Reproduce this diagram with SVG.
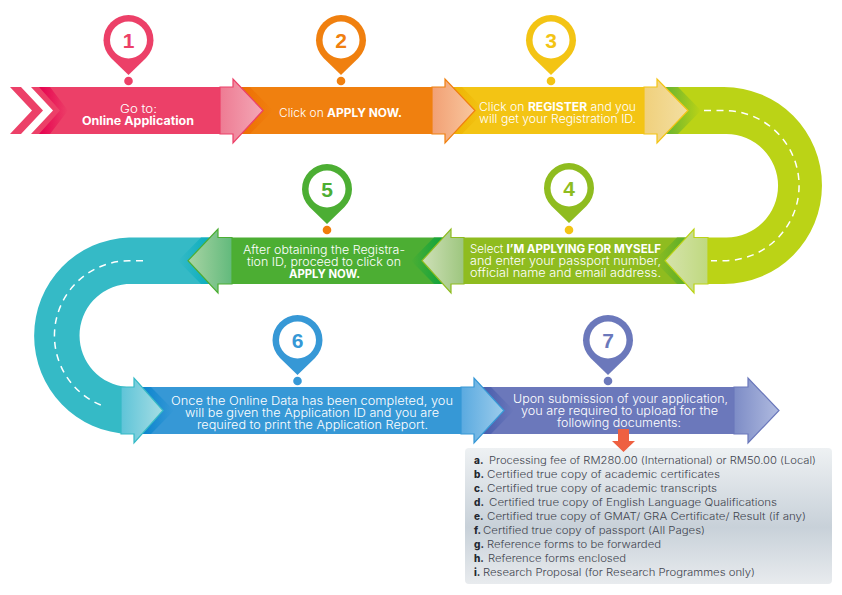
<svg xmlns="http://www.w3.org/2000/svg" width="842" height="595" viewBox="0 0 842 595">
<style>
text{font-family:"Inter","Lato","Liberation Sans",sans-serif}
.t{fill:#fff;font-size:11.5px;font-weight:300}
.b{font-weight:700}
.n{font-size:21px;font-weight:700;text-anchor:middle;font-family:"Liberation Sans",sans-serif}
.l{fill:#3f444e;font-size:10px;font-weight:300}
.lb{font-weight:800;fill:#23272f}
.hd{stroke-width:1.2}
.dash{fill:none;stroke:#fff;stroke-width:1.5;stroke-dasharray:7 5.5}
</style>
<defs>
<path id="pin" d="M-17.5 17.9A25 25 0 1 1 17.5 17.9L0 35Z"/>
<linearGradient id="box" x1="0" y1="0" x2="0" y2="1"><stop offset="0" stop-color="#eef1f3"/><stop offset=".58" stop-color="#c8d1d9"/><stop offset="1" stop-color="#e8ebee"/></linearGradient>
<linearGradient id="h1"><stop offset="0" stop-color="#ee7b93"/><stop offset="1" stop-color="#f3a8b6"/></linearGradient>
<linearGradient id="h2"><stop offset="0" stop-color="#f2a074"/><stop offset="1" stop-color="#f8c79f"/></linearGradient>
<linearGradient id="h3"><stop offset="0" stop-color="#f0d07c"/><stop offset="1" stop-color="#f3dfa2"/></linearGradient>
<linearGradient id="h4"><stop offset="0" stop-color="#d6e3ac"/><stop offset="1" stop-color="#bfd97f"/></linearGradient>
<linearGradient id="h5"><stop offset="0" stop-color="#cfe0b8"/><stop offset="1" stop-color="#9dc67e"/></linearGradient>
<linearGradient id="h6"><stop offset="0" stop-color="#a9d4a4"/><stop offset="1" stop-color="#62ba7c"/></linearGradient>
<linearGradient id="h7"><stop offset="0" stop-color="#5ec4d8"/><stop offset="1" stop-color="#a6dde4"/></linearGradient>
<linearGradient id="h8"><stop offset="0" stop-color="#5aaae0"/><stop offset="1" stop-color="#9ccceb"/></linearGradient>
<linearGradient id="h9"><stop offset="0" stop-color="#7d8cc6"/><stop offset="1" stop-color="#b0bbe0"/></linearGradient>
<linearGradient id="c1"><stop offset="0" stop-color="#e6004f"/><stop offset="1" stop-color="#ec4068"/></linearGradient>
<linearGradient id="c2"><stop offset="0" stop-color="#ec6a00"/><stop offset="1" stop-color="#f0800f"/></linearGradient>
<linearGradient id="c3"><stop offset="0" stop-color="#ecb000"/><stop offset="1" stop-color="#f3c414"/></linearGradient>
<linearGradient id="cl"><stop offset="0" stop-color="#55ac35"/><stop offset="1" stop-color="#bbd316"/></linearGradient>
<linearGradient id="c4"><stop offset="0" stop-color="#8fbc1f"/><stop offset="1" stop-color="#4fab2c"/></linearGradient>
<linearGradient id="c5"><stop offset="0" stop-color="#4cae33"/><stop offset="1" stop-color="#00a040"/></linearGradient>
<linearGradient id="ct"><stop offset="0" stop-color="#35bac6"/><stop offset="1" stop-color="#00aabc"/></linearGradient>
<linearGradient id="c6"><stop offset="0" stop-color="#0080cc"/><stop offset="1" stop-color="#3698d6"/></linearGradient>
<linearGradient id="c7"><stop offset="0" stop-color="#3f55a8"/><stop offset="1" stop-color="#6b78bb"/></linearGradient>
</defs>

<g id="step1">
<polygon points="10,87 21,87 43,110.5 21,134 10,134 32,110.5" fill="#ec4068"/>
<polygon points="31,87 233,87 233,134 31,134 53,110.5" fill="#ec4068"/>
<polygon points="39,87 50,87 68,110.5 50,134 39,134 60,110.5" fill="url(#c1)"/>
<text class="t"><tspan x="120" y="113" textLength="37" lengthAdjust="spacingAndGlyphs">Go to:</tspan><tspan class="b" x="82" y="124.5" textLength="112" lengthAdjust="spacingAndGlyphs">Online Application</tspan></text>
<use href="#pin" x="128.5" y="40" fill="#ec4068"/><circle cx="128.5" cy="40" r="18.5" fill="#fff"/><circle cx="128.5" cy="81" r="4.3" fill="#ec4068"/>
<text class="n" x="128.5" y="48" fill="#ec4068">1</text>
</g>
<g id="step2">
<polygon points="233,87 445,87 445,134 233,134" fill="#f0800f"/>
<polygon points="233,87 250,87 273,110.5 250,134 233,134" fill="url(#c2)"/>
<text class="t" x="279" y="117" textLength="123" lengthAdjust="spacingAndGlyphs">Click on <tspan class="b">APPLY NOW.</tspan></text>
<use href="#pin" x="341" y="40" fill="#f0800f"/><circle cx="341" cy="40" r="18.5" fill="#fff"/><circle cx="341" cy="81" r="4.3" fill="#f0800f"/>
<text class="n" x="341" y="48" fill="#f0800f">2</text>
</g>
<g id="step3">
<polygon points="445,87 657,87 657,134 445,134" fill="#f3c414"/>
<polygon points="445,87 462,87 485,110.5 462,134 445,134" fill="url(#c3)"/>
<text class="t" x="479" y="111" textLength="157" lengthAdjust="spacingAndGlyphs">Click on <tspan class="b">REGISTER</tspan> and you</text>
<text class="t" x="479" y="123" textLength="157" lengthAdjust="spacingAndGlyphs">will get your Registration ID.</text>
<use href="#pin" x="551" y="40" fill="#f3c414"/><circle cx="551" cy="40" r="18.5" fill="#fff"/><circle cx="551" cy="81" r="4.3" fill="#f3c414"/>
<text class="n" x="551" y="48" fill="#f3c414">3</text>
</g>
<g id="step4">
<polygon points="451,237.5 694,237.5 694,284 451,284" fill="#8fbc1f"/>
<polygon points="694,237.5 677,237.5 654,260.7 677,284 694,284" fill="url(#c4)"/>
<text class="t" x="470" y="253" textLength="191" lengthAdjust="spacingAndGlyphs">Select <tspan class="b">I’M APPLYING FOR MYSELF</tspan></text>
<text class="t" x="470" y="265" textLength="191" lengthAdjust="spacingAndGlyphs">and enter your passport number,</text>
<text class="t" x="470" y="277" textLength="191" lengthAdjust="spacingAndGlyphs">official name and email address.</text>
<use href="#pin" x="569" y="188" fill="#8fbc1f"/><circle cx="569" cy="188" r="18.5" fill="#fff"/><circle cx="569" cy="230" r="4.3" fill="#f3c414"/>
<text class="n" x="569" y="196" fill="#8fbc1f">4</text>
</g>
<g id="step5">
<polygon points="218,237.5 451,237.5 451,284 218,284" fill="#4cae33"/>
<polygon points="451,237.5 434,237.5 411,260.7 434,284 451,284" fill="url(#c5)"/>
<text class="t" x="243" y="254" textLength="162" lengthAdjust="spacingAndGlyphs">After obtaining the Registra-</text>
<text class="t" x="247" y="266" textLength="154" lengthAdjust="spacingAndGlyphs">tion ID, proceed to click on</text>
<text class="t b" x="289" y="278" textLength="71" lengthAdjust="spacingAndGlyphs">APPLY NOW.</text>
<use href="#pin" x="327" y="189" fill="#4cae33"/><circle cx="327" cy="189" r="18.5" fill="#fff"/><circle cx="327" cy="230" r="4.3" fill="#f07d0b"/>
<text class="n" x="327" y="197" fill="#4cae33">5</text>
</g>
<g id="step6">
<polygon points="134,387 474,387 474,434 134,434" fill="#3698d6"/>
<polygon points="134,387 151,387 174,410.5 151,434 134,434" fill="url(#c6)"/>
<text class="t" x="171" y="405" textLength="282" lengthAdjust="spacingAndGlyphs">Once the Online Data has been completed, you</text>
<text class="t" x="185" y="417" textLength="254" lengthAdjust="spacingAndGlyphs">will be given the Application ID and you are</text>
<text class="t" x="197" y="429" textLength="231" lengthAdjust="spacingAndGlyphs">required to print the Application Report.</text>
<use href="#pin" x="297.5" y="340" fill="#3698d6"/><circle cx="297.5" cy="340" r="18.5" fill="#fff"/><circle cx="297.5" cy="381" r="4.3" fill="#3698d6"/>
<text class="n" x="297.5" y="348" fill="#3698d6">6</text>
</g>
<g id="step7">
<polygon points="474,387 748,387 748,434 474,434" fill="#6b78bb"/>
<polygon points="474,387 491,387 514,410.5 491,434 474,434" fill="url(#c7)"/>
<text class="t" x="513" y="403" textLength="215" lengthAdjust="spacingAndGlyphs">Upon submission of your application,</text>
<text class="t" x="521" y="415" textLength="197" lengthAdjust="spacingAndGlyphs">you are required to upload for the</text>
<text class="t" x="557" y="427" textLength="124" lengthAdjust="spacingAndGlyphs">following documents:</text>
<use href="#pin" x="608" y="340" fill="#6b78bb"/><circle cx="608" cy="340" r="18.5" fill="#fff"/><circle cx="608" cy="381" r="4.3" fill="#6b78bb"/>
<text class="n" x="608" y="348" fill="#6b78bb">7</text>
</g>
<g id="documents">
<rect x="465" y="448" width="367" height="136" rx="4" fill="url(#box)"/>
<text class="l" y="464"><tspan class="lb" x="474">a.</tspan><tspan x="489" textLength="327" lengthAdjust="spacingAndGlyphs">Processing fee of RM280.00 (International) or RM50.00 (Local)</tspan></text>
<text class="l" y="478"><tspan class="lb" x="474">b.</tspan><tspan x="487" textLength="233" lengthAdjust="spacingAndGlyphs">Certified true copy of academic certificates</tspan></text>
<text class="l" y="492"><tspan class="lb" x="474">c.</tspan><tspan x="487" textLength="230" lengthAdjust="spacingAndGlyphs">Certified true copy of academic transcripts</tspan></text>
<text class="l" y="506"><tspan class="lb" x="474">d.</tspan><tspan x="489" textLength="288" lengthAdjust="spacingAndGlyphs">Certified true copy of English Language Qualifications</tspan></text>
<text class="l" y="520"><tspan class="lb" x="474">e.</tspan><tspan x="487" textLength="319" lengthAdjust="spacingAndGlyphs">Certified true copy of GMAT/ GRA Certificate/ Result (if any)</tspan></text>
<text class="l" y="534"><tspan class="lb" x="474">f.</tspan><tspan x="483" textLength="222" lengthAdjust="spacingAndGlyphs">Certified true copy of passport (All Pages)</tspan></text>
<text class="l" y="548"><tspan class="lb" x="474">g.</tspan><tspan x="487" textLength="174" lengthAdjust="spacingAndGlyphs">Reference forms to be forwarded</tspan></text>
<text class="l" y="562"><tspan class="lb" x="474">h.</tspan><tspan x="488" textLength="138" lengthAdjust="spacingAndGlyphs">Reference forms enclosed</tspan></text>
<text class="l" y="576"><tspan class="lb" x="474">i.</tspan><tspan x="483" textLength="272" lengthAdjust="spacingAndGlyphs">Research Proposal (for Research Programmes only)</tspan></text>
</g>

<g id="connectors">
<path d="M657 87H724A98 98.5 0 0 1 724 284H694V237.5H726.5A51.5 51.7 0 0 0 726.5 134H657Z" fill="#bbd316"/>
<polygon points="657,87 678,87 701,110.5 678,134 657,134" fill="url(#cl)"/>
<path d="M218 237.5H129A98 98.3 0 0 0 129 434H134V387H126.5A51.5 51.7 0 0 1 126.5 284H218Z" fill="#35bac6"/>
<polygon points="218,237.5 201,237.5 178,260.7 201,284 218,284" fill="url(#ct)"/>
<path class="dash" d="M704 110.5H724A75 75 0 0 1 724 260.7H711"/>
<path class="dash" d="M143 260.7H129A75 75 0 0 0 102 405.5"/>
<polygon class="hd" points="220,87 233,87 233,79 263,110.5 233,143 233,134 220,134" fill="url(#h1)" stroke="#ec4068"/>
<polygon class="hd" points="432,87 445,87 445,79 475,110.5 445,143 445,134 432,134" fill="url(#h2)" stroke="#f0800f"/>
<polygon class="hd" points="644,87 657,87 657,79 688,110.5 657,143 657,134 644,134" fill="url(#h3)" stroke="#f3c414"/>
<polygon class="hd" points="708,237.5 694,237.5 694,229 665,260.7 694,293 694,284 708,284" fill="url(#h4)" stroke="#bbd316"/>
<polygon class="hd" points="464,237.5 451,237.5 451,229 422,260.7 451,293 451,284 464,284" fill="url(#h5)" stroke="#8fbc1f"/>
<polygon class="hd" points="232,237.5 218,237.5 218,229 188,260.7 218,293 218,284 232,284" fill="url(#h6)" stroke="#4cae33"/>
<polygon class="hd" points="121,387 134,387 134,378 163,410.5 134,443 134,434 121,434" fill="url(#h7)" stroke="#35bac6"/>
<polygon class="hd" points="461,387 474,387 474,378 504,410.5 474,443 474,434 461,434" fill="url(#h8)" stroke="#3698d6"/>
<polygon class="hd" points="734,387 748,387 748,378 779,410.5 748,443 748,434 734,434" fill="url(#h9)" stroke="#6b78bb"/>
<polygon points="618,429 629,429 629,441 635,441 623.5,452 612,441 618,441" fill="#ee6041"/>
</g>
</svg>
